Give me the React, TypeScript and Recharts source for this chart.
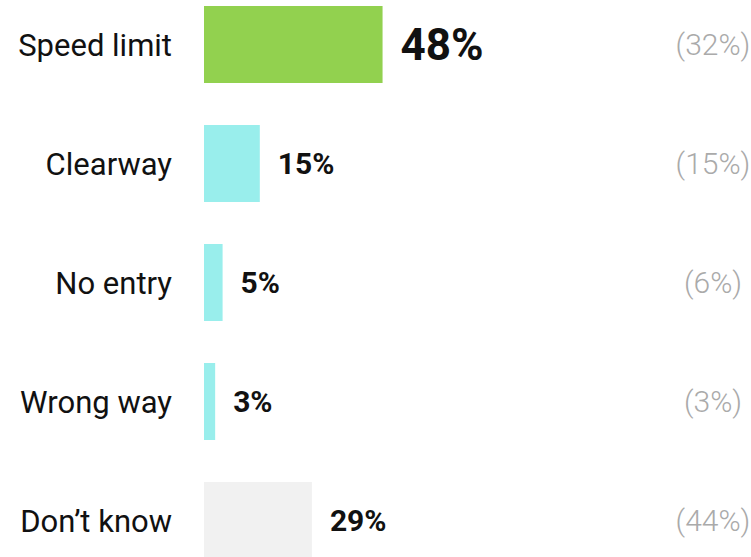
import React from 'react';
import { BarChart, Bar, XAxis, YAxis, Cell, LabelList } from 'recharts';

const categories = ['Speed limit', 'Clearway', 'No entry', 'Wrong way', 'Don\u2019t know'];
const values = [48, 15, 5, 3, 29];
const previous = [32, 15, 6, 3, 44];
const colors = ['#92D14F', '#99EEEC', '#99EEEC', '#99EEEC', '#F1F1F1'];

const data = categories.map((name, i) => ({ name, value: values[i], prev: previous[i] }));

const FONT = 'Roboto, "DejaVu Sans", sans-serif';

export default function App() {
  // the top of the first row is cut off in the reference, so the chart is shifted up
  return (
    <div style={{ position: 'fixed', left: 0, top: 0, width: 751, height: 557, overflow: 'hidden', background: '#fff' }}>
      <div style={{ marginTop: -15 }}>
        <BarChart
          width={751}
          height={595}
          data={data}
          layout="vertical"
          margin={{ top: 0, right: 175, bottom: 0, left: 0 }}
          barSize={77}
        >
          <XAxis type="number" domain={[0, 100]} hide />
          <YAxis
            type="category"
            dataKey="name"
            width={204}
            axisLine={false}
            tickLine={false}
            tickSize={0}
            tickMargin={32}
            tick={{ fill: '#111', fontSize: 31, fontFamily: FONT }}
          />
          <Bar dataKey="value" isAnimationActive={false}>
            {data.map((d, i) => (
              <Cell key={d.name} fill={colors[i]} />
            ))}
            <LabelList
              dataKey="value"
              content={(p: any) => (
                <text
                  x={p.x + p.width + 18}
                  y={p.y + p.height / 2}
                  dy="0.35em"
                  fill="#111"
                  fontFamily={FONT}
                  fontWeight={700}
                  fontSize={p.index === 0 ? 44 : 30}
                >
                  {`${p.value}%`}
                </text>
              )}
            />
            <LabelList
              dataKey="prev"
              content={(p: any) => (
                <text
                  x={713}
                  y={p.y + p.height / 2}
                  dy="0.35em"
                  textAnchor="middle"
                  fill="#AAAAAA"
                  fontFamily={FONT}
                  fontWeight={300}
                  fontSize={30}
                >
                  {`(${p.value}%)`}
                </text>
              )}
            />
          </Bar>
        </BarChart>
      </div>
    </div>
  );
}
